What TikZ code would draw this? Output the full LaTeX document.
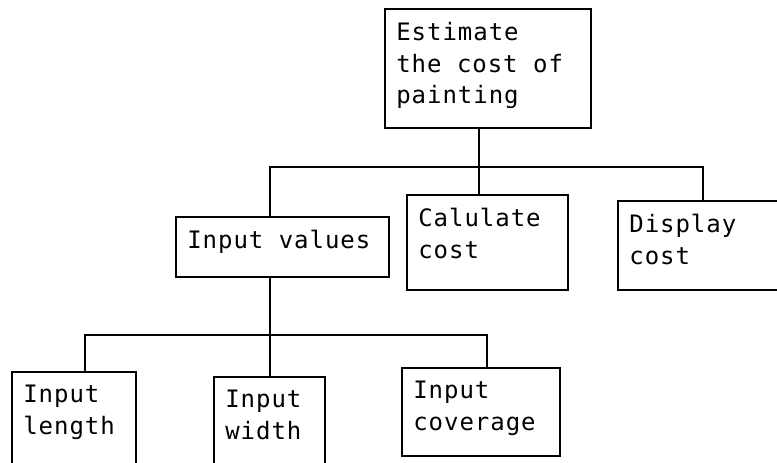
\documentclass[tikz,border=0pt]{standalone}
\usepackage{fontspec}
\setmonofont[LetterSpace=4]{DejaVu Sans Mono}
\newdimen\px
\px=0.75pt
% box text: width, height (in px), lines
\newcommand\boxtext[3]{%
    \parbox[t][#2\px][t]{#1\px}{%
        \raggedright\leftskip=8.5pt%
        \vspace*{10pt}#3}%
}
\tikzset{%
    task/.style={%
        draw,%
        line width=2.1pt,%
        anchor=north west,%
        inner sep=0pt,%
        outer sep=0pt,%
        font=\ttfamily\fontsize{18pt}{23.6pt}\selectfont%
    },%
    link/.style={%
        line width=2.1pt,%
    }%
}

\begin{document}
\begin{tikzpicture}[x=0.75pt,y=-0.75pt]
    \useasboundingbox (0,0) rectangle (777,462);
    \clip (0,0) rectangle (777,462);
    \node[task] (paint) at (385,9)
        {\boxtext{206}{119}{Estimate\\the cost of\\painting}};
    \node[task] (values) at (176,217)
        {\boxtext{213}{60}{Input values}};
    \node[task] (calc) at (407,195)
        {\boxtext{161}{95}{Calulate\\cost}};
    \node[task] (display) at (618,201)
        {\boxtext{175}{89}{Display\\cost}};
    \node[task] (length) at (12,372)
        {\boxtext{124}{110}{Input\\length}};
    \node[task] (width) at (214,377)
        {\boxtext{111}{100}{Input\\width}};
    \node[task] (cover) at (402,368)
        {\boxtext{158}{88}{Input\\coverage}};
    % first level bus
    \coordinate (busL) at (270,167);
    \coordinate (busM) at (479,167);
    \coordinate (busR) at (703,167);
    \draw[link] (busM |- paint.south) -- (busM |- calc.north);
    \draw[link] (busL |- values.north) -- (busL) -- (busR) -- (busR |- display.north);
    % second level bus
    \coordinate (subL) at (85,335);
    \coordinate (subM) at (270,335);
    \coordinate (subR) at (487,335);
    \draw[link] (subM |- values.south) -- (subM |- width.north);
    \draw[link] (subL |- length.north) -- (subL) -- (subR) -- (subR |- cover.north);
\end{tikzpicture}
\end{document}
